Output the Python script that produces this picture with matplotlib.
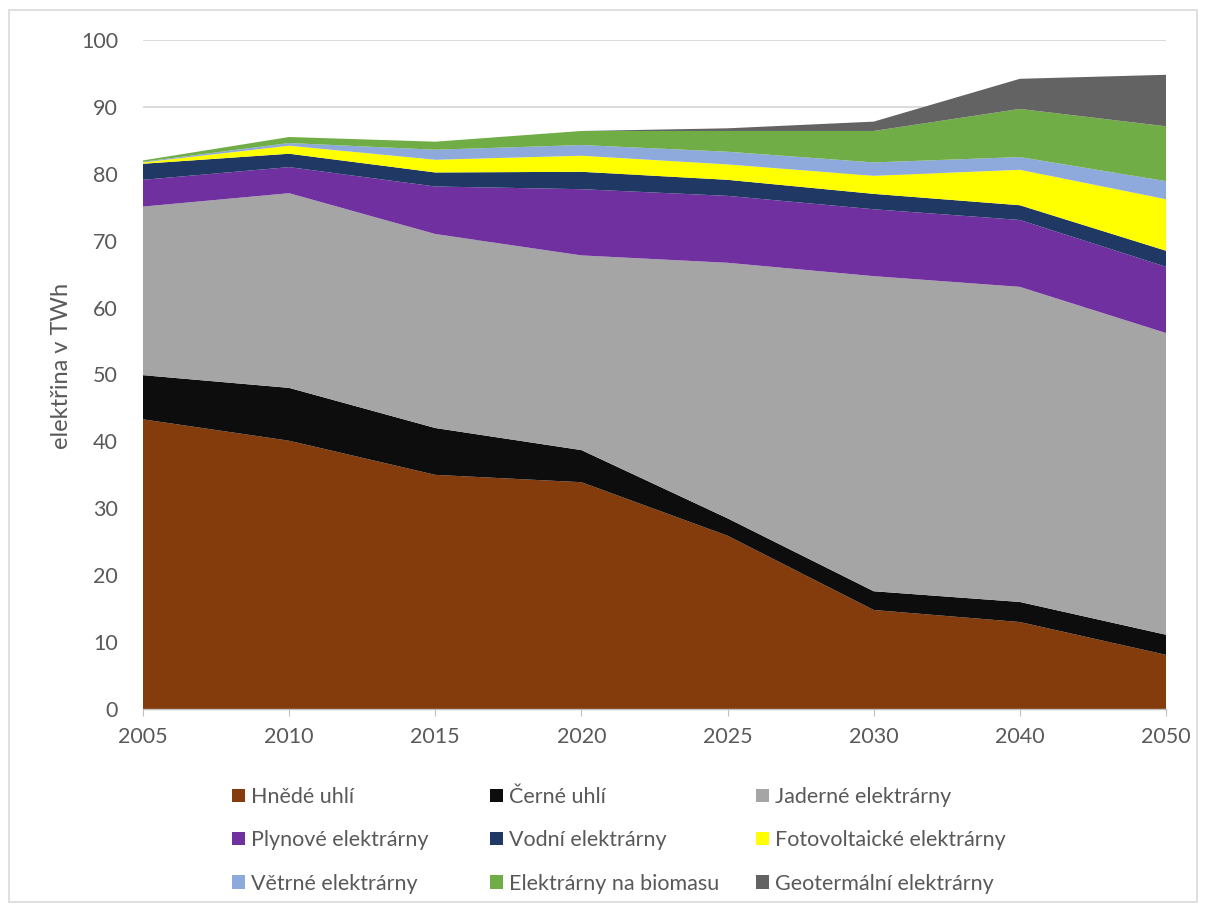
import matplotlib
matplotlib.use("Agg")
import matplotlib.pyplot as plt
from matplotlib.patches import Patch, Rectangle
import numpy as np

years = ["2005", "2010", "2015", "2020", "2025", "2030", "2040", "2050"]
hnede_uhli = [43.3, 40.1, 35.0, 33.9, 25.9, 14.8, 13.0, 8.1]
cerne_uhli = [6.6, 7.9, 7.0, 4.8, 2.6, 2.8, 3.0, 3.0]
jaderne = [25.2, 29.1, 29.0, 29.1, 38.2, 47.1, 47.1, 45.1]
plynove = [4.0, 3.9, 7.1, 9.9, 10.0, 10.0, 10.0, 9.9]
vodni = [2.4, 2.0, 2.1, 2.6, 2.4, 2.3, 2.2, 2.4]
fotovolt = [0.2, 1.2, 1.9, 2.4, 2.3, 2.7, 5.3, 7.7]
vetrne = [0.1, 0.4, 1.5, 1.6, 1.9, 2.0, 1.9, 2.7]
biomasa = [0.2, 0.9, 1.2, 2.1, 3.1, 4.7, 7.2, 8.2]
geotermalni = [0.0, 0.0, 0.0, 0.0, 0.4, 1.4, 4.5, 7.7]

labels = ["Hnědé uhlí", "Černé uhlí", "Jaderné elektrárny",
          "Plynové elektrárny", "Vodní elektrárny", "Fotovoltaické elektrárny",
          "Větrné elektrárny", "Elektrárny na biomasu", "Geotermální elektrárny"]
colors = ["#843C0C", "#0D0D0D", "#A5A5A5", "#7030A0", "#1F3864",
          "#FFFF00", "#8EA9DB", "#70AD47", "#636363"]
series = [hnede_uhli, cerne_uhli, jaderne, plynove, vodni, fotovolt,
          vetrne, biomasa, geotermalni]

plt.rcParams['font.family'] = ['Lato', 'DejaVu Sans']

fig = plt.figure(figsize=(12.06, 9.10), dpi=100)
ax = fig.add_axes([143/1206, 1-709/910, (1166-143)/1206, (709-40)/910])

x = np.arange(len(years))
ax.stackplot(x, *series, colors=colors, labels=labels, linewidth=0)

ax.set_xlim(0, len(years)-1)
ax.set_ylim(0, 100)
ax.set_yticks(np.arange(0, 101, 10))
ax.set_xticks(x)
ax.set_xticklabels(years)
ax.grid(axis='y', color='#D9D9D9', linewidth=1.3, zorder=0)
ax.set_axisbelow(True)
for s in ['top', 'right', 'left']:
    ax.spines[s].set_visible(False)
ax.spines['bottom'].set_color('#BFBFBF')
ax.spines['bottom'].set_linewidth(1.0)
ax.tick_params(axis='y', length=0, pad=18, labelsize=15.5, labelcolor='#595959')
ax.tick_params(axis='x', length=5, color='#BFBFBF', pad=8, labelsize=15.5, labelcolor='#595959')
fig.text(62/1206, 1-366/910, "elektřina v TWh", rotation=90, ha='center', va='center',
         fontsize=17, color='#595959')

col_x = [232, 490, 756]
for c in range(3):
    idx = [c, c+3, c+6]
    handles = [Patch(facecolor=colors[i], edgecolor='none', label=labels[i]) for i in idx]
    leg = fig.legend(handles=handles, loc='upper left',
                     bbox_to_anchor=(col_x[c]/1206, 1-787/910),
                     ncol=1, frameon=False, fontsize=15.5, labelcolor='#595959',
                     handlelength=0.6, handleheight=0.6, handletextpad=0.3,
                     labelspacing=1.08, borderpad=0, borderaxespad=0)

fig.patches.append(Rectangle((9/1206, 8/910), 1188/1206, 892/910, transform=fig.transFigure,
                             fill=False, edgecolor='#D9D9D9', linewidth=1.2))

fig.savefig("out.png", dpi=100)
